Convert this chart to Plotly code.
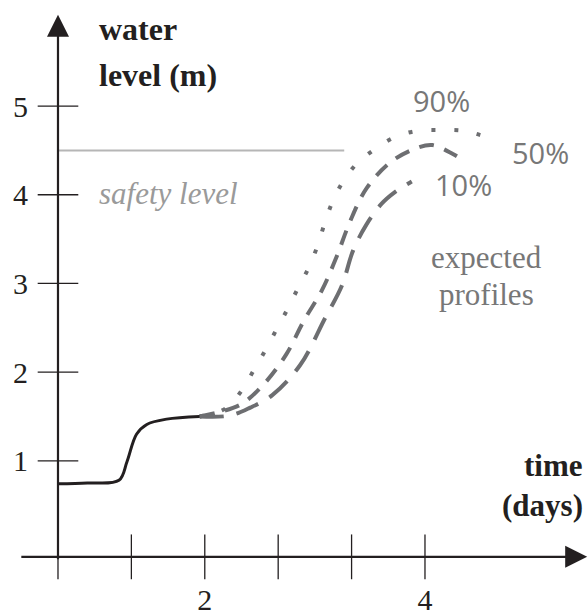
import plotly.graph_objects as go

# ---- data (x in tick units, y in metres) ----
obs_x = [0.0, 0.4, 0.83, 0.94, 1.07, 1.21, 1.48, 1.93]
obs_y = [0.74, 0.75, 0.78, 0.99, 1.30, 1.41, 1.47, 1.50]

p90_x = [1.93, 2.1, 2.30, 2.51, 2.66, 2.82, 2.97, 3.12, 3.26, 3.41, 3.53, 3.63, 3.73, 3.87, 4.07, 4.31, 4.59, 4.89, 5.23, 5.53, 5.84]
p90_y = [1.50, 1.53, 1.60, 1.80, 2.01, 2.24, 2.47, 2.70, 2.93, 3.17, 3.41, 3.67, 3.90, 4.13, 4.35, 4.51, 4.65, 4.72, 4.73, 4.72, 4.65]

p50_x = [1.93, 2.2, 2.5, 2.81, 3.11, 3.35, 3.60, 3.80, 3.98, 4.21, 4.55, 4.90, 5.10, 5.38, 5.50]
p50_y = [1.50, 1.55, 1.64, 1.87, 2.20, 2.58, 2.93, 3.31, 3.70, 4.08, 4.38, 4.53, 4.56, 4.46, 4.40]

p10_x = [1.93, 2.34, 2.62, 2.92, 3.30, 3.64, 3.87, 4.02, 4.20, 4.41, 4.59, 4.82]
p10_y = [1.50, 1.51, 1.60, 1.74, 2.08, 2.61, 2.98, 3.37, 3.66, 3.90, 4.03, 4.15]

safety_level = 4.5
safety_x = [0.0, 3.9]

x_ticks = [0, 1, 2, 3, 4, 5]
x_label_pos = [2, 5]
x_label_text = ["2", "4"]
y_ticks = [1, 2, 3, 4, 5]
y_label_text = ["1", "2", "3", "4", "5"]

BLACK = "#231f20"
GRAY = "#6d6e71"
SERIF = "Liberation Serif"

W, H = 588, 616

fig = go.Figure()

fig.add_trace(go.Scatter(x=safety_x, y=[safety_level] * 2, mode="lines",
                         line=dict(color="#b6b6b6", width=2), hoverinfo="skip"))

fig.add_trace(go.Scatter(x=p90_x, y=p90_y, mode="lines",
                         line=dict(color=GRAY, width=4, dash="4px,19px", shape="spline"), hoverinfo="skip"))
fig.add_trace(go.Scatter(x=p50_x, y=p50_y, mode="lines",
                         line=dict(color=GRAY, width=4, dash="15px,11px", shape="spline"), hoverinfo="skip"))
fig.add_trace(go.Scatter(x=p10_x, y=p10_y, mode="lines",
                         line=dict(color=GRAY, width=4, dash="24px,13px", shape="spline"), hoverinfo="skip"))

fig.add_trace(go.Scatter(x=obs_x, y=obs_y, mode="lines",
                         line=dict(color=BLACK, width=3, shape="spline"), hoverinfo="skip"))

fig.add_trace(go.Scatter(x=x_ticks, y=[-0.083] * len(x_ticks), mode="markers",
                         marker=dict(symbol="line-ns", size=32, line=dict(color=BLACK, width=1.3)),
                         hoverinfo="skip"))
fig.add_trace(go.Scatter(x=[0] * len(y_ticks), y=y_ticks, mode="markers",
                         marker=dict(symbol="line-ew", size=29, line=dict(color=BLACK, width=1.3)),
                         hoverinfo="skip"))

fig.add_annotation(x=7.21, y=-0.083, ax=-0.52, ay=-0.083, xref="x", yref="y", axref="x", ayref="y",
                   text="", showarrow=True, arrowhead=2, arrowsize=2, arrowwidth=2.2, arrowcolor=BLACK, standoff=0)
fig.add_annotation(x=0, y=6.03, ax=0, ay=-0.127, xref="x", yref="y", axref="x", ayref="y",
                   text="", showarrow=True, arrowhead=2, arrowsize=2, arrowwidth=2.2, arrowcolor=BLACK, standoff=0)

def label(x, y, text, size, color, xanchor="center", family=SERIF):
    fig.add_annotation(x=x, y=y, xref="x", yref="y", text=text, showarrow=False,
                       xanchor=xanchor, yanchor="middle",
                       font=dict(family=family, size=size, color=color))

label(0.531, 5.864, "<b>water</b>", 32, BLACK, "left")
label(0.531, 5.35, "<b>level (m)</b>", 32, BLACK, "left")
label(0.531, 4.01, "<i>safety level</i>", 31, "#9a9a9a", "left")
label(5.23, 5.06, "90%", 29, "#777777", family="Open Sans")
label(6.58, 4.48, "50%", 29, "#777777", family="Open Sans")
label(5.52, 4.11, "10%", 29, "#777777", family="Open Sans")
label(5.84, 3.29, "expected", 31, "#777777")
label(5.84, 2.87, "profiles", 31, "#777777")
label(7.18, 0.947, "<b>time</b>", 31, BLACK, "right")
label(7.18, 0.493, "<b>(days)</b>", 31, BLACK, "right")

fig.update_layout(
    width=W, height=H, autosize=False,
    margin=dict(l=0, r=0, t=0, b=0),
    paper_bgcolor="white", plot_bgcolor="white",
    showlegend=False,
    xaxis=dict(range=[-0.790, 7.221], showgrid=False, zeroline=False, showline=False,
               tickvals=x_label_pos, ticktext=x_label_text, ticks="",
               anchor="free", position=(H - 567) / H, ticklabelstandoff=22,
               tickfont=dict(family=SERIF, size=30, color=BLACK), fixedrange=True),
    yaxis=dict(range=[-0.626, 6.196], showgrid=False, zeroline=False, showline=False,
               tickvals=y_ticks, ticktext=y_label_text, ticks="",
               anchor="free", position=58 / W, ticklabelstandoff=30,
               tickfont=dict(family=SERIF, size=30, color=BLACK), fixedrange=True),
)

fig.write_html(
    "out.html",
    config={"displayModeBar": False},
    post_script="document.body.style.margin='0';document.documentElement.style.overflow='hidden';document.body.style.overflow='hidden';",
)
